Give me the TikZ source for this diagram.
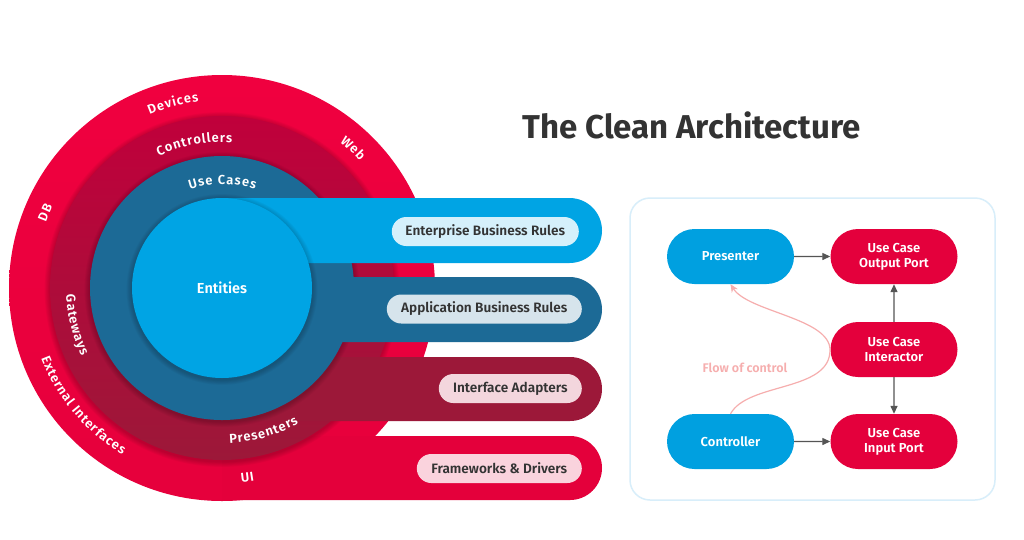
\documentclass[tikz,border=0pt]{standalone}
\usepackage{fontspec}
\setmainfont{Fira Sans}
\IfFontExistsTF{Fira Sans SemiBold}{\newfontfamily\semib{Fira Sans SemiBold}}{\newcommand\semib{\bfseries}}
\usetikzlibrary{decorations.text, arrows.meta, shapes.misc}
\definecolor{entblue}{HTML}{00A4E4}
\definecolor{ucblue}{HTML}{1C6A96}
\definecolor{iared}{HTML}{9C1839}
\definecolor{iatop}{HTML}{C0003B}
\definecolor{outtop}{HTML}{F0003F}
\definecolor{outred}{HTML}{E6003C}
\definecolor{fwred}{HTML}{E4003B}
\definecolor{pillent}{HTML}{D5F0FB}
\definecolor{pillapp}{HTML}{D6E4EC}
\definecolor{pillia}{HTML}{F3D6DD}
\definecolor{pillfw}{HTML}{FAD3DD}
\definecolor{txtdark}{HTML}{333333}
\definecolor{panelborder}{HTML}{D8EEFA}
\definecolor{nodeblue}{HTML}{00A0E0}
\definecolor{nodered}{HTML}{E4003C}
\definecolor{flowpink}{HTML}{F6AEAE}
\definecolor{arrowgray}{HTML}{555555}
\newcommand\ringfont{\fontsize{13}{15}\selectfont\semib}
\newcommand\pillfont{\fontsize{13.6}{15}\selectfont\semib}
\newcommand\boxfont{\fontsize{13}{15}\selectfont\semib}
% clockwise label (tops outward): angle, baseline radius, text
\newcommand\ringcw[3]{\path[decorate, decoration={text along path, text align=center, text={|\color{white}\ringfont\kern0.9pt|#3}}] ([shift={(#1+40:#2)}]c) arc[start angle=#1+40, end angle=#1-40, radius=#2];}
% counter-clockwise label (tops inward)
\newcommand\ringccw[3]{\path[decorate, decoration={text along path, text align=center, text={|\color{white}\ringfont\kern0.9pt|#3}}] ([shift={(#1-40:#2)}]c) arc[start angle=#1-40, end angle=#1+40, radius=#2];}
% soft shadow of a circle: radius
\newcommand\circshadow[1]{\foreach \k in {1,...,6}{\fill[black, opacity=0.03] ([yshift=-1.5pt]c) circle[radius=#1+\k*0.9];}}
\tikzset{
  pill/.style={rounded rectangle, minimum height=29pt, inner xsep=0pt, text=txtdark, font=\pillfont, anchor=east},
  flownode/.style={rounded rectangle, minimum width=127pt, minimum height=55pt, inner sep=0pt, text=white, font=\boxfont, align=center},
  arr/.style={draw=arrowgray, line width=1.3pt, -{Triangle[length=8pt,width=7pt]}},
}
\begin{document}
\begin{tikzpicture}[x=1pt,y=1pt]
\useasboundingbox (0,0) rectangle (1024,-539);
\fill[white] (0,0) rectangle (1024,-539);
\coordinate (c) at (222,-288);
% outer ring and frameworks band
\shade[top color=outtop, bottom color=outred] (c) circle[radius=213];
\fill[fwred] (222,-436) -- (570,-436) arc[start angle=90, end angle=-90, radius=32] -- (222,-500) -- cycle;
% interface adapters
\circshadow{172}
\shade[top color=iatop, bottom color=iared] (c) circle[radius=172];
\fill[iared] (222,-357) -- (570,-357) arc[start angle=90, end angle=-90, radius=32] -- (222,-421) -- cycle;
% use cases
\circshadow{132}
\fill[ucblue] (c) circle[radius=132];
\fill[ucblue] (222,-277) -- (569.5,-277) arc[start angle=90, end angle=-90, radius=32.5] -- (222,-342) -- cycle;
% entities
\fill[entblue] (222,-198) -- (569.5,-198) arc[start angle=90, end angle=-90, radius=32.5] -- (222,-263) -- cycle;
\circshadow{90}
\fill[entblue] (c) circle[radius=90];
\node[text=white, font=\fontsize{14.5}{16}\selectfont\semib] (ent) at (c) {Entities};
% ring labels
\ringcw{105}{188}{Devices}
\ringcw{47}{187.5}{Web}
\ringcw{157}{188}{DB}
\ringcw{101}{146}{Controllers}
\ringcw{90}{104}{Use Cases}
\ringccw{194}{156}{Gateways}
\ringccw{220}{194}{External Interfaces}
\ringccw{286}{155.5}{Presenters}
\ringccw{277.5}{195.5}{UI}
% pills
\node[pill, fill=pillent, minimum width=187pt] (pent) at (579,-231.5) {Enterprise Business Rules};
\node[pill, fill=pillapp, minimum width=195pt] (papp) at (582,-309) {Application Business Rules};
\node[pill, fill=pillia, minimum width=143pt] (pia) at (582,-388.5) {Interface Adapters};
\node[pill, fill=pillfw, minimum width=165pt] (pfw) at (582,-468.5) {Frameworks \& Drivers};
% title
\node[anchor=base, text=txtdark, font=\fontsize{33}{36}\selectfont\bfseries] (title) at (691.5,-138) {The Clean Architecture};
% right panel
\node[draw=panelborder, line width=1.5pt, rounded corners=20pt, minimum width=365pt, minimum height=302pt] (panel) at (812.5,-349) {};
\node[flownode, fill=nodeblue] (presenter) at (730.5,-256.5) {Presenter};
\node[flownode, fill=nodered] (outport) at (894,-256.5) {Use Case\\Output Port};
\node[flownode, fill=nodered] (interactor) at (894,-349.5) {Use Case\\Interactor};
\node[flownode, fill=nodered] (inport) at (894,-441.5) {Use Case\\Input Port};
\node[flownode, fill=nodeblue] (controller) at (730.5,-441.5) {Controller};
\draw[arr] (presenter) -- (outport);
\draw[arr] (controller) -- (inport);
\draw[arr] (interactor) -- (outport);
\draw[arr] (interactor) -- (inport);
\coordinate (fmid) at (830,-350);
\draw[flowpink, line width=1.2pt, -{Stealth[length=8pt,width=7pt]}] (controller.north) .. controls (748,-382) and (830,-392) .. (fmid) .. controls (830,-318) and (748,-312) .. (presenter.south);
\node[text=flowpink, font=\fontsize{12.5}{14}\selectfont\semib] (flowlbl) at (745,-368) {Flow of control};
\end{tikzpicture}
\end{document}
